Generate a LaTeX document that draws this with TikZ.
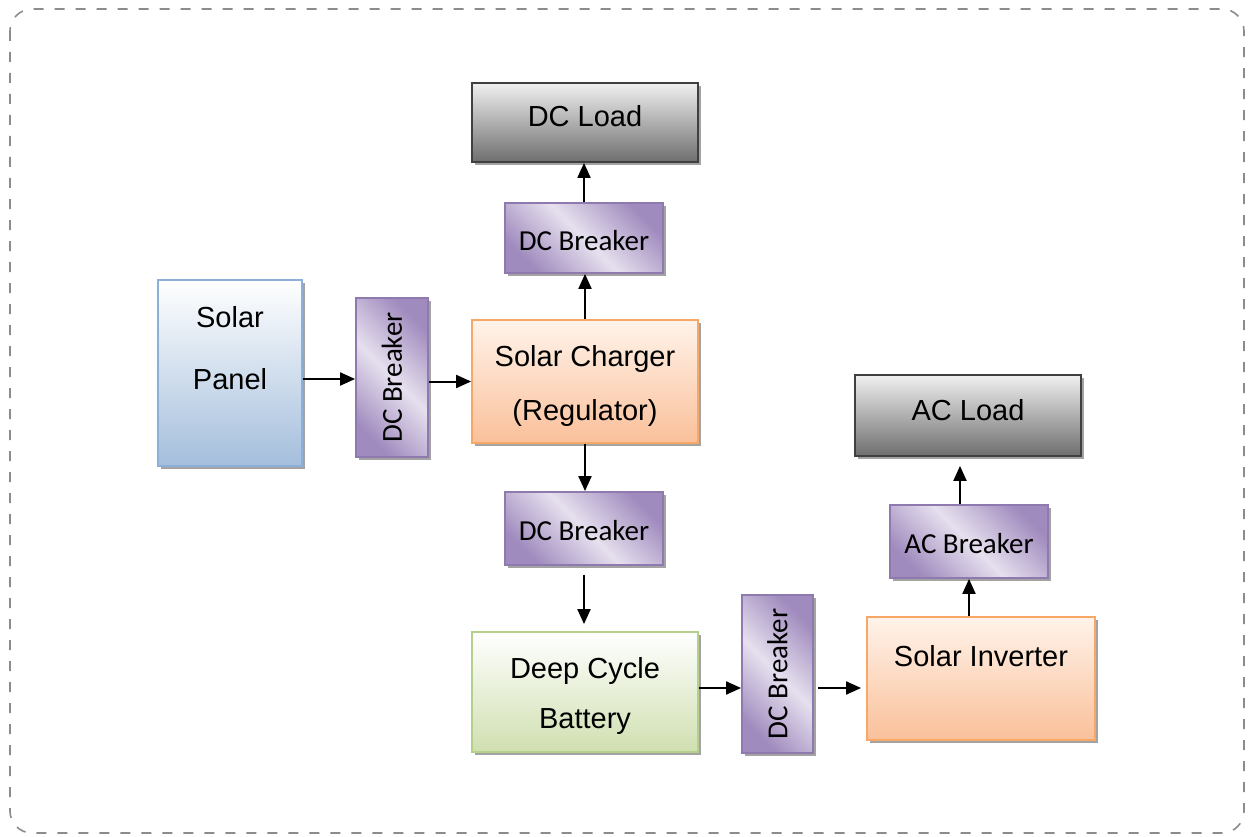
\documentclass[tikz,border=0pt]{standalone}
\usepackage{fontspec}
\setmainfont{Liberation Sans}
\newfontfamily\brkfont{Carlito}
\usetikzlibrary{arrows.meta,shadows}
\definecolor{loadhi}{HTML}{F0F0F0}
\definecolor{loadlo}{HTML}{6E6E6E}
\definecolor{loadedge}{HTML}{404040}
\definecolor{panlo}{HTML}{A4BEDC}
\definecolor{panedge}{HTML}{8DB0DA}
\definecolor{orghi}{HTML}{FFF3EA}
\definecolor{orglo}{HTML}{FAC09A}
\definecolor{orgedge}{HTML}{F7A867}
\definecolor{batlo}{HTML}{D0DFB0}
\definecolor{batedge}{HTML}{B5CF8C}
\definecolor{brkdark}{HTML}{A08BBE}
\definecolor{brklight}{HTML}{E6E0EE}
\definecolor{brkedge}{HTML}{8F7AB0}
\begin{document}
\begin{tikzpicture}[x=1pt,y=-1pt,
  blk/.style={draw, line width=1.8pt, inner sep=0pt, align=center,
    font=\fontsize{29}{34}\selectfont,
    drop shadow={shadow xshift=3pt, shadow yshift=-3pt, fill=black!45, opacity=0.8}},
  loadbox/.style={blk, draw=loadedge, top color=loadhi, bottom color=loadlo,
    text height=20pt, text depth=11pt},
  panbox/.style={blk, draw=panedge, top color=white, bottom color=panlo},
  orgbox/.style={blk, draw=orgedge, top color=orghi, bottom color=orglo},
  batbox/.style={blk, draw=batedge, top color=white, bottom color=batlo},
  brkbox/.style={blk, draw=brkedge, font=\brkfont\fontsize{29}{34}\selectfont,
    top color=brkdark, bottom color=brkdark, middle color=brklight, shading angle=-45},
  brkflat/.style={brkbox, text height=26pt, text depth=2pt},
  flow/.style={line width=2pt, -{Triangle[length=15pt,width=13pt]}}]
  \useasboundingbox (0,0) rectangle (1252,837);
  \draw[black!45, line width=1.6pt, dash pattern=on 10pt off 11pt, rounded corners=22pt]
    (10,9) rectangle (1244,833);

  % left column
  \node[panbox, minimum width=144pt, minimum height=186pt] (panel) at (230,373)
    {Solar\\[28pt]Panel\\[16pt]\mbox{}};
  \node[brkbox, minimum width=72pt, minimum height=159pt] (brkin) at (392,377.5)
    {\rotatebox{90}{DC Breaker}};

  % middle column
  \node[loadbox, minimum width=226pt, minimum height=79pt] (dcload) at (585,122.5) {DC Load};
  \node[brkflat, minimum width=158pt, minimum height=70pt] (brkdc) at (584,238) {DC Breaker};
  \node[orgbox, minimum width=226pt, minimum height=123pt] (charger) at (585,381.5)
    {\rule{0pt}{30pt}Solar Charger\\[20pt](Regulator)};
  \node[brkflat, minimum width=158pt, minimum height=73pt] (brkbat) at (584,528.5) {DC Breaker};
  \node[batbox, minimum width=226pt, minimum height=120pt] (battery) at (585,692)
    {\rule{0pt}{30pt}Deep Cycle\\[16pt]Battery};

  % right column
  \node[brkbox, minimum width=71pt, minimum height=158pt] (brkinv) at (777.5,674)
    {\rotatebox{90}{DC Breaker}};
  \node[orgbox, minimum width=228pt, minimum height=123pt] (inverter) at (981,678.5)
    {Solar Inverter\\[12pt]\mbox{}};
  \node[brkflat, minimum width=158pt, minimum height=73pt] (brkac) at (969,541.5) {AC Breaker};
  \node[loadbox, minimum width=226pt, minimum height=81pt] (acload) at (968,415.5) {AC Load};

  % connectors
  \draw[flow] ([yshift=-6pt]panel.east) -- ([yshift=-6pt]panel.east -| brkin.west);
  \draw[flow] ([yshift=-4pt]brkin.east) -- ([yshift=-4pt]brkin.east -| charger.west);
  \draw[flow] (charger.north) -- (charger.north |- brkdc.south);
  \draw[flow] (brkdc.north) -- (brkdc.north |- dcload.south);
  \draw[flow] (charger.south) -- (charger.south |- brkbat.north);
  \draw[flow, shorten <=9pt, shorten >=7pt] (brkbat.south) -- (brkbat.south |- battery.north);
  \draw[flow] ([yshift=4pt]battery.east) -- ([yshift=4pt]battery.east -| brkinv.west);
  \draw[flow, shorten <=4pt, shorten >=5pt] ([yshift=4pt]battery.east -| brkinv.east)
    -- ([yshift=4pt]battery.east -| inverter.west);
  \draw[flow] (brkac.south |- inverter.north) -- (brkac.south);
  \draw[flow, shorten >=9pt] ([xshift=-9pt]brkac.north) -- ([xshift=-9pt]brkac.north |- acload.south);
\end{tikzpicture}
\end{document}
